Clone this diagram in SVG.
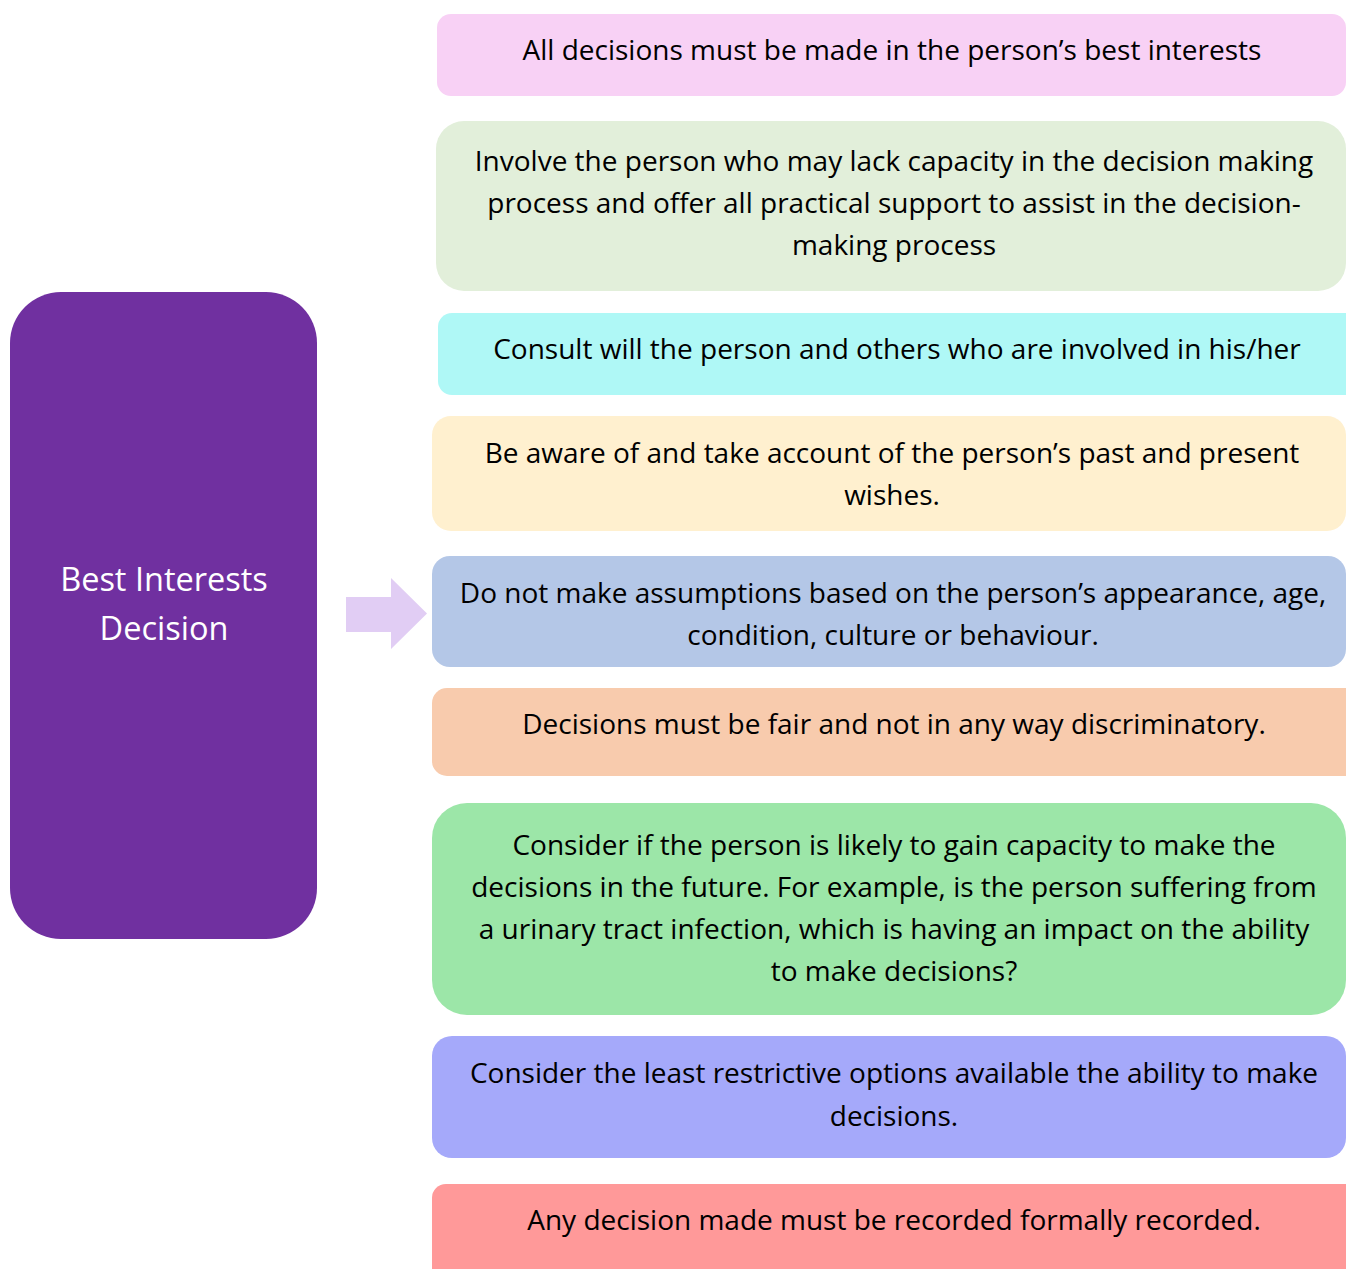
<svg xmlns="http://www.w3.org/2000/svg" width="1346" height="1269" viewBox="0 0 1346 1269">
<style>
  text { font-family: "Open Sans", "Liberation Sans", sans-serif; font-size: 28px; fill: #000; text-anchor: middle; }
  .main { fill: #fff; font-size: 32.5px; }
</style>
<rect width="1346" height="1269" fill="#fff"/>
<g id="best-interests">
  <rect x="10" y="292" width="307" height="647" rx="51" fill="#7030A0"/>
  <text class="main" x="164" y="591">Best Interests</text>
  <text class="main" x="164" y="640">Decision</text>
</g>
<g id="connectors">
  <polygon points="346,597 391,597 391,578 427,613.5 391,649 391,632 346,632" fill="#E1CDF4"/>
</g>
<g id="n1">
  <rect x="437" y="14" width="909" height="82" rx="14" fill="#F8D1F5"/>
  <text x="892" y="60">All decisions must be made in the person’s best interests</text>
</g>
<g id="n2">
  <rect x="436" y="121" width="910" height="170" rx="28" fill="#E2EFDA"/>
  <text x="894" y="171">Involve the person who may lack capacity in the decision making</text>
  <text x="894" y="213">process and offer all practical support to assist in the decision-</text>
  <text x="894" y="255">making process</text>
</g>
<g id="n3">
  <rect x="438" y="313" width="930" height="82" rx="14" fill="#AFF8F6"/>
  <text x="897" y="359">Consult will the person and others who are involved in his/her</text>
</g>
<g id="n4">
  <rect x="432" y="416" width="914" height="115" rx="19" fill="#FFF0CF"/>
  <text x="892" y="463">Be aware of and take account of the person’s past and present</text>
  <text x="892" y="505">wishes.</text>
</g>
<g id="n5">
  <rect x="432" y="556" width="914" height="111" rx="18" fill="#B4C7E7"/>
  <text x="893" y="603">Do not make assumptions based on the person’s appearance, age,</text>
  <text x="893" y="645">condition, culture or behaviour.</text>
</g>
<g id="n6">
  <rect x="432" y="688" width="934" height="88" rx="15" fill="#F8CBAD"/>
  <text x="894" y="734">Decisions must be fair and not in any way discriminatory.</text>
</g>
<g id="n7">
  <rect x="432" y="803" width="914" height="212" rx="35" fill="#9CE6A8"/>
  <text x="894" y="855">Consider if the person is likely to gain capacity to make the</text>
  <text x="894" y="897">decisions in the future. For example, is the person suffering from</text>
  <text x="894" y="939">a urinary tract infection, which is having an impact on the ability</text>
  <text x="894" y="981">to make decisions?</text>
</g>
<g id="n8">
  <rect x="432" y="1036" width="914" height="122" rx="20" fill="#A5A9FA"/>
  <text x="894" y="1083">Consider the least restrictive options available the ability to make</text>
  <text x="894" y="1126">decisions.</text>
</g>
<g id="n9">
  <rect x="432" y="1184" width="934" height="110" rx="14" fill="#FF9999"/>
  <text x="894" y="1230">Any decision made must be recorded formally recorded.</text>
</g>
</svg>
